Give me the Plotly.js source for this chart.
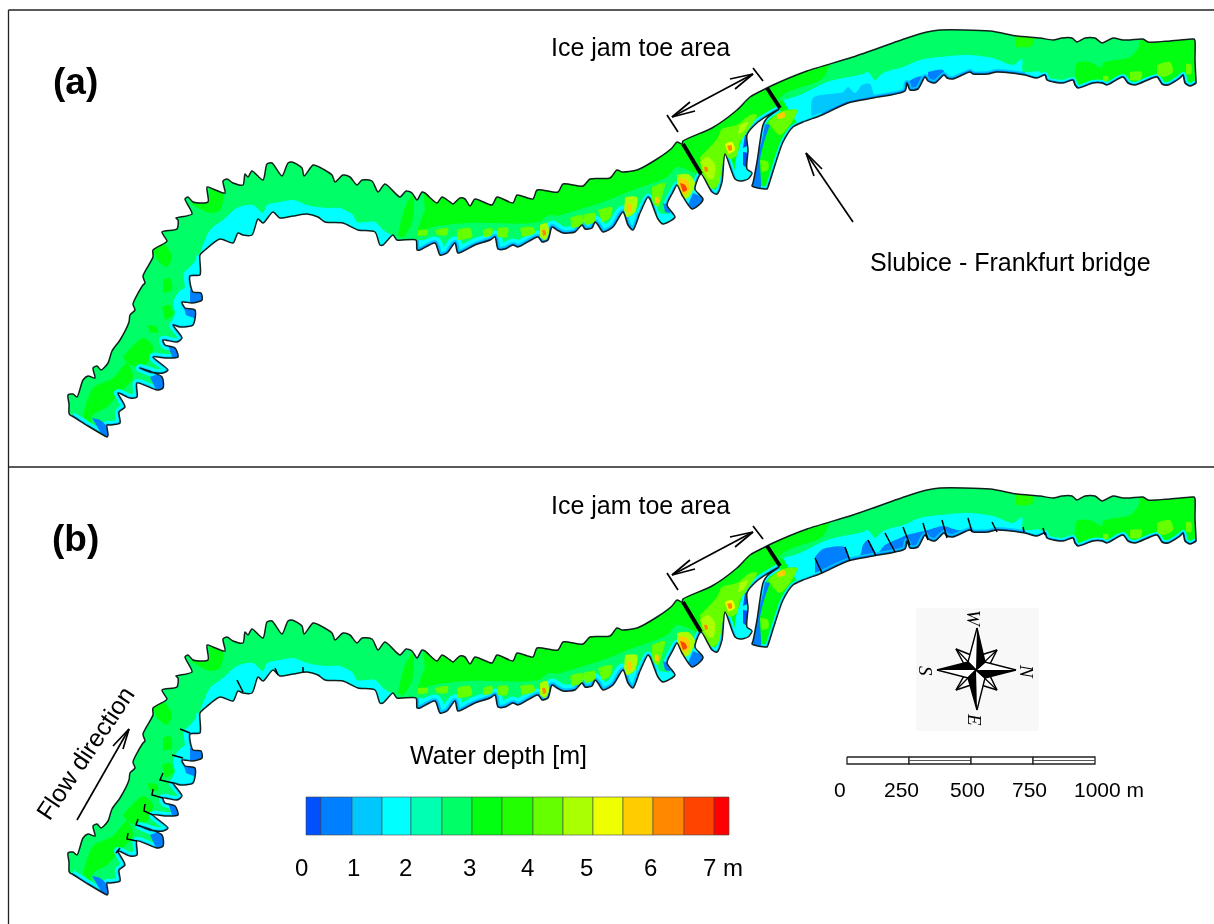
<!DOCTYPE html>
<html><head><meta charset="utf-8">
<script src="https://cdn.plot.ly/plotly-3.0.1.min.js"></script>
<style>html,body{margin:0;padding:0;background:#fff}#plot{width:1214px;height:924px}.main-svg{filter:blur(0.45px)}</style>
</head><body><div id="plot"></div>
<script>
// depth legend
const depthColors=['#0050ff','#0080ff','#00c8ff','#00ffff','#00ffb0','#00ff66','#00ff10','#22ff00','#66ff00','#aaff00','#eeff00','#ffcc00','#ff8800','#ff4400','#ff0000'];
const depthEdges=[306,321,352,382,411,442,472,502,533,563,593,623,653,684,714,729];
const depthTickLabels=['0','1','2','3','4','5','6','7 m'];
const depthTickX=[301,353,405,469,527,586,650,723];
// river banks
const bankNorth=[[70,415],[69,413],[69,404],[68,395],[73,394],[77,397],[83,380],[88,376],[95,378],[93,368],[97,366],[101,370],[108,363],[112,351],[120,340],[129,322],[130,315],[135,310],[133,304],[143,285],[145,283],[143,276],[153,257],[153,250],[165,243],[167,241],[162,232],[177,229],[178,220],[176,218],[192,214],[185,199],[188,197],[193,202],[208,202],[207,187],[213,189],[225,193],[223,181],[227,179],[233,183],[243,185],[245,174],[248,177],[252,171],[263,180],[267,164],[272,163],[282,176],[288,163],[292,162],[302,168],[304,176],[313,165],[317,166],[332,175],[335,182],[343,175],[350,177],[357,185],[362,180],[372,181],[378,192],[385,184],[400,197],[406,191],[412,193],[417,200],[422,192],[425,193],[437,203],[442,197],[450,202],[453,204],[460,198],[465,199],[470,206],[475,199],[492,205],[497,197],[513,203],[517,195],[533,199],[537,190],[558,192],[563,184],[583,186],[590,179],[610,178],[617,170],[622,172],[637,170],[657,159],[672,148],[677,142],[682,144],[683,141],[712,128],[737,110],[750,97],[767,88],[773,85],[807,71],[853,57],[907,38],[927,32],[940,30],[990,31],[1017,36],[1040,38],[1053,40],[1062,38],[1072,38],[1077,42],[1085,38],[1095,38],[1102,43],[1113,38],[1123,40],[1130,40],[1143,39],[1148,42],[1170,41],[1192,39],[1194,39],[1195,41],[1195,60],[1196,81],[1196,83]];
const bankEastFar=[[1196,83],[1190,86],[1185,83],[1183,75],[1180,78],[1168,85],[1162,84],[1157,77],[1135,85],[1128,83],[1123,77],[1107,85],[1102,83],[1093,83],[1078,88],[1075,85],[1073,80],[1063,83],[1047,80],[1045,75],[1037,78],[1025,75]];
const bankEastNear=[[1025,75],[997,72],[988,74],[973,74],[970,72],[953,79],[947,78],[944,75],[935,83],[928,81],[925,77],[918,89],[910,90],[907,83],[905,91],[873,98],[848,103],[822,115]];
const bankArm=[[822,115],[803,122],[793,127],[783,142],[775,165],[768,187],[767,189],[765,189],[754,187],[752,186],[753,183],[757,162],[763,125],[767,118],[779,109]];
const bankToe=[[779,109],[758,122],[747,135],[748,150],[747,169],[752,173],[748,179],[740,181],[735,179],[725,154],[722,182],[717,194],[712,192],[701,174],[695,189],[703,199],[700,204],[692,209],[682,195],[677,185],[673,192],[667,205],[675,217],[663,224],[658,219],[650,199],[648,197],[640,213]];
const bankMiddle=[[640,213],[633,230],[628,225],[623,212],[613,227],[603,232],[598,225],[595,222],[592,228],[585,229],[582,225],[575,232],[563,233],[557,230],[552,227],[548,240],[542,242],[538,237],[518,247],[513,245],[505,249],[498,249],[495,237],[490,240],[475,245],[458,253],[455,243],[447,253],[440,255],[435,243],[420,250],[417,250],[416,240]];
const bankReach=[[416,240],[397,240],[393,235],[383,245],[380,245],[375,232],[358,230],[343,223],[325,222],[318,217],[307,214],[293,216],[280,218],[273,212],[263,223],[258,219],[252,235],[243,235],[238,233],[233,243],[220,239],[205,250],[200,255]];
const bankGroynes=[[200,255],[200,275],[190,276],[193,292],[201,293],[202,300],[192,303],[182,302],[185,308],[195,310],[193,325],[180,327],[173,325],[182,338],[177,342],[163,340],[165,345],[175,348],[178,357],[167,358],[153,357],[168,370],[163,373],[150,372],[140,368],[162,377],[163,388],[157,390],[137,383],[137,397],[130,398],[118,393],[125,407],[119,412],[120,423],[110,425],[107,425],[108,435],[107,437],[105,436],[88,426],[72,416]];
// broad depth zones
const zoneMainGreen=[[422,180],[683,120],[700,173],[677,167],[667,177],[633,190],[600,203],[567,213],[533,223],[467,223],[433,227],[418,232],[425,210]];
const zoneToeGreen=[[683,120],[770,70],[830,55],[823,78],[783,95],[760,130],[745,190],[700,200],[695,175]];
const zoneArmGreen=[[780,100],[817,108],[822,118],[790,135],[775,195],[745,195],[760,120]];
const zoneBand=[[398,235],[405,207],[413,195],[412,223],[403,238]];
const zoneEastFarGreen=[[1075,90],[1077,63],[1090,62],[1102,68],[1103,63],[1130,57],[1138,48],[1143,35],[1200,35],[1200,92]];
const zoneNorthPatch=[[1015,35],[1032,35],[1032,46],[1016,47]];
const zoneCyanEast=[[783,100],[800,95],[827,82],[863,74],[868,72],[875,80],[883,73],[903,67],[920,60],[940,57],[967,55],[993,58],[1013,65],[1022,59],[1023,72],[1040,72],[1040,90],[820,125],[800,125],[790,112]];
const zoneCyanReach=[[200,253],[210,230],[223,220],[237,208],[253,205],[263,213],[267,205],[280,202],[293,200],[307,205],[317,207],[327,208],[340,208],[353,215],[357,222],[375,222],[383,230],[397,240],[400,262],[195,262]];
const zoneCyanGroynes=[[183,273],[190,267],[200,257],[205,277],[205,300],[182,300],[197,312],[193,330],[172,323],[175,313],[173,303],[178,293],[185,287]];
const zoneArmWest=[[765,124],[761,144],[755,160],[752,190],[760,190],[760,160],[765,139],[770,125]];
// west patches
const patchWest1=[[190,203],[208,202],[210,186],[223,193],[220,210],[210,213],[197,207]];
const patchWest2=[[150,246],[165,245],[172,257],[167,267],[157,260]];
const patchWest3=[[163,280],[170,278],[172,290],[163,293]];
const patchWest4=[[162,307],[170,305],[173,315],[165,320]];
const patchWest5=[[147,325],[157,327],[158,333],[150,332]];
const patchWest6=[[123,357],[143,338],[153,347],[147,363],[137,367],[127,363]];
const patchWest7=[[83,415],[93,388],[113,378],[127,363],[133,377],[120,393],[107,407],[93,415],[90,427]];
const patchEast1=[[1157,65],[1170,62],[1173,72],[1163,77],[1157,75]];
const patchEast2=[[1130,72],[1142,72],[1140,80],[1130,80]];
const patchEast3=[[1103,76],[1108,76],[1108,81],[1103,81]];
const patchEast4=[[1186,64],[1191,64],[1191,74],[1186,74]];
// groyne tips
const tipWest1=[[190,290],[205,290],[205,303],[190,304]];
const tipWest2=[[184,308],[197,306],[197,318],[186,315]];
const tipWest3=[[167,342],[178,348],[182,358],[172,357]];
const tipWest4=[[150,377],[162,375],[167,392],[157,392]];
const tipWest5=[[92,418],[100,420],[107,427],[110,440],[102,435]];
const tipToe1=[[693,193],[705,200],[695,212],[687,207]];
const tipToe2=[[663,203],[670,207],[670,213],[665,212]];
const tipToe3=[[743,152],[749,154],[749,169],[743,165]];
const tipToe4=[[745,135],[749,135],[748,145],[743,148]];
const cyanToe1=[[657,213],[678,217],[665,226],[655,220]];
const cyanToe2=[[743,135],[750,135],[750,169],[754,174],[748,182],[738,182],[735,165],[740,145]];
const cyanToe3=[[680,190],[690,183],[696,190],[705,200],[690,210]];
// shallow-side shoal patches
const shoal1=[[418,230],[428,230],[427,235],[418,236]];
const shoal2=[[435,230],[448,228],[447,235],[437,235]];
const shoal3=[[457,230],[470,228],[472,237],[458,240]];
const shoal4=[[483,230],[492,228],[492,235],[483,237]];
const shoal5=[[498,228],[508,228],[507,237],[498,237]];
const shoal6=[[520,228],[533,227],[535,233],[522,237]];
const shoal7=[[570,218],[582,215],[582,225],[572,228]];
const shoal8=[[583,215],[595,213],[595,222],[585,225]];
const shoal9=[[598,210],[612,207],[610,218],[602,222]];
const shoal10=[[652,187],[665,183],[663,193],[658,207],[653,203],[652,195]];
const toeLight=[[700,157],[717,139],[722,129],[737,125],[750,115],[757,115],[747,132],[740,142],[737,155],[730,159],[725,155],[722,169],[718,185],[712,189],[702,174]];
const armLight=[[768,122],[780,112],[797,110],[792,122],[780,135],[773,129]];
const armLower=[[760,160],[768,162],[768,170],[762,172]];
// hot spots
const hot1=[[540,225],[547,223],[549,233],[545,240],[540,237]];
const hot1Core=[[542,230],[545,230],[546,235],[543,236]];
const hot2=[[625,197],[637,197],[635,212],[627,217],[624,210]];
const hot2Core=[[627,203],[632,205],[631,212],[627,212]];
const hot3Core=[[655,197],[658,197],[659,203],[655,203]];
const hot4=[[677,175],[688,174],[695,183],[688,198],[682,198],[677,188]];
const hot4Mid=[[679,178],[687,180],[690,188],[685,195],[679,188]];
const hot4Core=[[680,183],[685,185],[687,190],[683,192]];
const hot5=[[700,162],[708,157],[715,165],[713,179],[708,179],[703,170]];
const hot5Core=[[704,167],[707,167],[708,171],[705,172]];
const hot6=[[725,144],[732,142],[735,150],[728,154]];
const hot6Core=[[727,146],[731,145],[732,150],[729,151]];
const hot7=[[740,125],[748,122],[743,132],[738,134]];
const hot8=[[777,115],[784,112],[785,117],[778,119]];
// panel-specific blue zones
const blueA1=[[812,120],[813,98],[843,92],[848,87],[855,93],[862,85],[870,84],[875,96],[890,100],[820,125]];
const blueA2=[[908,82],[917,77],[925,77],[925,92],[908,92]];
const blueA3=[[928,72],[943,70],[945,82],[928,85]];
const blueB=[[815,99],[823,91],[845,89],[850,100],[860,97],[863,87],[868,82],[877,95],[885,87],[900,80],[907,77],[915,75],[928,72],[943,68],[957,72],[970,74],[973,100],[815,120]];
// groyne lines of panel b
const groynesBX=[815,822,null,845,850,null,868,876,null,885,895,null,903,910,null,923,928,null,942,947,null,968,972,null,992,997,null,1023,1024,null,1043,1045,null,180,190,null,172,183,null,173,160,163,null,163,152,153,null,153,144,145,null,140,136,138,null,137,127,128,null,118,116,120,null,237,243,null,275,278,null,303,303];
const groynesBY=[100,115,null,89,103,null,82,98,null,75,94,null,69,87,null,65,82,null,62,80,null,60,74,null,64,74,null,69,74,null,70,77,null,271,275,null,297,300,null,325,322,315,null,340,337,331,null,357,353,346,null,368,367,361,null,383,381,375,null,393,395,390,null,222,234,null,210,217,null,209,214];
// ice jam toe marks
const barsX=[683,701,null,767,780];
const barsY=[144,174,null,88,108];
const spanX=[667,678,null,753,763,null,672,753,null,690,672,695,null,730,753,735];
const spanY=[115,132,null,68,81,null,117,74,null,102,117,111,null,79,74,89];
const bridgeArrowX=[853,806,null,822,806,814];
const bridgeArrowY=[222,153,null,169,153,176];
const flowArrowX=[77,129,null,113,129,123];
const flowArrowY=[362,271,null,288,271,291];
// compass
const compassBack=[[916,150],[1039,150],[1039,273],[916,273]];
const compassBlack=[[977,170],[985,204],[976,212],null,[1016,212],[985,220],[976,212],null,[977,252],[968,220],[976,212],null,[937,212],[968,204],[976,212]];
const compassWhite=[[977,170],[968,204],[976,212],null,[1016,212],[985,204],[976,212],null,[977,252],[985,220],[976,212],null,[937,212],[968,220],[976,212]];
const compassDiag=[[976,212],[968,204],[971,197],[956,191],[964,206],null,[976,212],[985,204],[981,197],[997,192],[990,206],null,[976,212],[985,220],[990,218],[997,232],[981,227],null,[976,212],[968,220],[964,218],[956,232],[971,227]];
const compassSpokesX=[956,976,null,997,976,null,997,976,null,956,976];
const compassSpokesY=[191,212,null,192,212,null,232,212,null,232,212];
const compassLetters=['W','N','E','S'];
const compassLetterX=[974,1027,975,926];
const compassLetterY=[161,213,261,213];
// scale bar
const scaleEdges=[847,909,971,1033,1095];
const scaleLabels=['0','250','500','750','1000 m'];
const scaleLabelX=[840,901,967,1029,1109];

const outline=[...bankNorth,...bankEastFar.slice(1),...bankEastNear.slice(1),...bankArm.slice(1),...bankToe.slice(1),...bankMiddle.slice(1),...bankReach.slice(1),...bankGroynes.slice(1)];
const X=p=>p.map(q=>q?q[0]:null), Y=p=>p.map(q=>q?q[1]:null);
const C={blue0:depthColors[0],blue1:depthColors[1],blue2:depthColors[2],cyan:depthColors[3],aqua:depthColors[4],spring:depthColors[5],green:depthColors[6],green2:depthColors[7],lime:depthColors[8],yg:depthColors[9],yel:depthColors[10],amb:depthColors[11],org:depthColors[12],red:depthColors[13],red2:depthColors[14]};
const bigZones=[[zoneMainGreen,C.green],[zoneToeGreen,C.green],[zoneArmGreen,C.green],[zoneBand,C.green],[zoneEastFarGreen,C.green],[zoneNorthPatch,C.green2],[zoneCyanEast,C.cyan],[zoneCyanReach,C.cyan],[zoneCyanGroynes,C.cyan],[patchWest1,C.green],[patchWest2,C.green],[patchWest3,C.green],[patchWest4,C.green],[patchWest5,C.green],[patchWest6,C.green],[patchWest7,C.green]];
const stripes=[[bankEastFar,6,C.cyan],[bankEastFar,3,C.blue2],[bankEastFar,1.8,C.blue0],[bankEastNear,6,C.blue2],[bankEastNear,3,C.blue1],[bankArm,5,C.cyan],[bankArm,2.5,C.blue2],[bankToe,7,C.cyan],[bankToe,3.5,C.blue2],[bankMiddle,24,C.spring],[bankMiddle,13,C.cyan],[bankMiddle,6,C.blue2],[bankMiddle,2.5,C.blue1],[bankGroynes,8,C.cyan],[bankGroynes,3,C.blue2]];
const fineZones=[[zoneArmWest,C.blue1],[cyanToe1,C.cyan],[cyanToe2,C.cyan],[cyanToe3,C.cyan],[tipWest1,C.blue1],[tipWest2,C.blue1],[tipWest3,C.blue1],[tipWest4,C.blue1],[tipWest5,C.blue1],[tipToe1,C.blue1],[tipToe2,C.blue1],[tipToe3,C.blue0],[tipToe4,C.blue0],[patchEast1,C.lime],[patchEast2,C.lime],[patchEast3,C.lime],[patchEast4,C.lime],[shoal1,C.lime],[shoal2,C.lime],[shoal3,C.lime],[shoal4,C.lime],[shoal5,C.lime],[shoal6,C.lime],[shoal7,C.lime],[shoal8,C.lime],[shoal9,C.lime],[shoal10,C.lime],[toeLight,C.lime],[armLight,C.lime],[armLower,C.lime],[hot1,C.yg],[hot1Core,C.org],[hot2,C.yg],[hot2Core,C.amb],[hot3Core,C.amb],[hot4,C.yg],[hot4Mid,C.amb],[hot4Core,C.red],[hot5,C.yg],[hot5Core,C.org],[hot6,C.yel],[hot6Core,C.org],[hot7,C.yg],[hot8,C.amb]];

const traces=[];
const fillT=(p,color,ya)=>traces.push({x:X(p),y:Y(p),xaxis:'x',yaxis:ya,mode:'lines',fill:'toself',fillcolor:color,line:{width:0,color:'rgba(0,0,0,0)',shape:'spline',smoothing:0.8,simplify:false},hoverinfo:'skip'});
const lineT=(x,y,w,color,ya,shape)=>traces.push({x,y,xaxis:'x',yaxis:ya,mode:'lines',line:{width:w,color,shape:shape||'linear',smoothing:0.7,simplify:false},hoverinfo:'skip'});
function river(ya,extra){
  const first=traces.length;
  fillT(outline,C.spring,ya);
  traces[first].line.smoothing=0.7;
  bigZones.forEach(z=>fillT(z[0],z[1],ya));
  extra.forEach(z=>fillT(z[0],z[1],ya));
  stripes.forEach(s=>lineT(X(s[0]),Y(s[0]),s[1],s[2],ya,'spline'));
  fineZones.forEach(z=>fillT(z[0],z[1],ya));
  // white surround that trims every depth zone to the river banks
  const mx=[-40,-40,1260,1260,-40,null,...X(outline),outline[0][0]], my=[-40,520,520,-40,-40,null,...Y(outline),outline[0][1]];
  traces.push({x:mx,y:my,xaxis:'x',yaxis:ya,mode:'lines',fill:'toself',fillcolor:'#ffffff',line:{width:0,color:'rgba(0,0,0,0)',shape:'spline',smoothing:0.7,simplify:false},hoverinfo:'skip'});
  lineT(X(outline).concat(outline[0][0]),Y(outline).concat(outline[0][1]),1.5,'#10201c',ya,'spline');
  lineT(barsX,barsY,4,'#000',ya);
  lineT(spanX,spanY,1.7,'#000',ya);
}
river('y',[[blueA1,C.blue2],[blueA2,C.blue1],[blueA3,C.blue1]]);
lineT(bridgeArrowX,bridgeArrowY,1.7,'#000','y');
river('y2',[[blueB,C.blue1]]);
lineT(groynesBX,groynesBY,1.5,'#000','y2');
lineT(flowArrowX,flowArrowY,1.7,'#000','y2');
// legend bar
depthColors.forEach((c,i)=>{const a=depthEdges[i],b=depthEdges[i+1];
  traces.push({x:[a,b,b,a,a],y:[339,339,377,377,339],xaxis:'x',yaxis:'y2',mode:'lines',fill:'toself',fillcolor:c,line:{width:0.8,color:'rgba(70,70,70,0.75)'},hoverinfo:'skip'});});
// compass
traces.push({x:X(compassBack),y:Y(compassBack),xaxis:'x',yaxis:'y2',mode:'lines',fill:'toself',fillcolor:'#f8f8f8',line:{width:0,color:'rgba(0,0,0,0)'},hoverinfo:'skip'});
traces.push({x:X(compassDiag),y:Y(compassDiag),xaxis:'x',yaxis:'y2',mode:'lines',fill:'toself',fillcolor:'#fff',line:{width:1.5,color:'#000'},hoverinfo:'skip'});
lineT(compassSpokesX,compassSpokesY,1.2,'#000','y2');
traces.push({x:X(compassWhite),y:Y(compassWhite),xaxis:'x',yaxis:'y2',mode:'lines',fill:'toself',fillcolor:'#fff',line:{width:1.4,color:'#000'},hoverinfo:'skip'});
traces.push({x:X(compassBlack),y:Y(compassBlack),xaxis:'x',yaxis:'y2',mode:'lines',fill:'toself',fillcolor:'#000',line:{width:1.4,color:'#000'},hoverinfo:'skip'});
// scale bar
scaleEdges.slice(0,-1).forEach((e,i)=>{const f=scaleEdges[i+1];
  traces.push({x:[e,f,f,e,e],y:[299,299,306,306,299],xaxis:'x',yaxis:'y2',mode:'lines',fill:'toself',fillcolor:'#fff',line:{width:1.3,color:'#222'},hoverinfo:'skip'});
  if(i%2===1) lineT([e,f],[302.5,302.5],1,'#555','y2');});

const ann=(text,x,y,ya,size,o)=>Object.assign({text,x,y,xref:'x',yref:ya,showarrow:false,font:{family:'Liberation Sans, Arial',size,color:'#000'},xanchor:'center',yanchor:'middle'},o||{});
const annotations=[
 ann('<b>(a)</b>',75,81,'y',37),
 ann('<b>(b)</b>',75,80,'y2',37),
 ann('Ice jam toe area',640,47,'y',25),
 ann('Ice jam toe area',640,47,'y2',25),
 ann('Slubice - Frankfurt bridge',1010,262,'y',25),
 ann('Flow direction',85,295,'y2',25,{textangle:-56}),
 ann('Water depth [m]',498,297,'y2',25)
];
depthTickLabels.forEach((t,i)=>annotations.push(ann(t,depthTickX[i],409,'y2',24)));
scaleLabels.forEach((t,i)=>annotations.push(ann(t,scaleLabelX[i],331,'y2',21)));
compassLetters.forEach((t,i)=>annotations.push(ann('<i>'+t+'</i>',compassLetterX[i],compassLetterY[i],'y2',19,{textangle:90,font:{family:'Liberation Serif',size:19,color:'#000'}})));

const frameShapes=[
 {type:'line',xref:'paper',yref:'paper',x0:8.5/1214,x1:8.5/1214,y0:0,y1:1-10/924,line:{color:'#222',width:1.3}},
 {type:'line',xref:'paper',yref:'paper',x0:8.5/1214,x1:1,y0:1-10/924,y1:1-10/924,line:{color:'#222',width:1.3}},
 {type:'line',xref:'paper',yref:'paper',x0:8.5/1214,x1:1,y0:1-467/924,y1:1-467/924,line:{color:'#222',width:1.3}}
];
const hidden={visible:false,fixedrange:true};
Plotly.newPlot('plot',traces,{
 width:1214,height:924,margin:{l:0,r:0,t:0,b:0},paper_bgcolor:'#fff',plot_bgcolor:'#fff',showlegend:false,
 xaxis:Object.assign({range:[0,1214],domain:[0,1],anchor:'y'},hidden),
 yaxis:Object.assign({range:[467,10],domain:[1-467/924,1-10/924],anchor:'x'},hidden),
 yaxis2:Object.assign({range:[466,9],domain:[0,1-467/924],anchor:'x'},hidden),
 annotations,shapes:frameShapes
},{staticPlot:true,displayModeBar:false});
</script></body></html>
